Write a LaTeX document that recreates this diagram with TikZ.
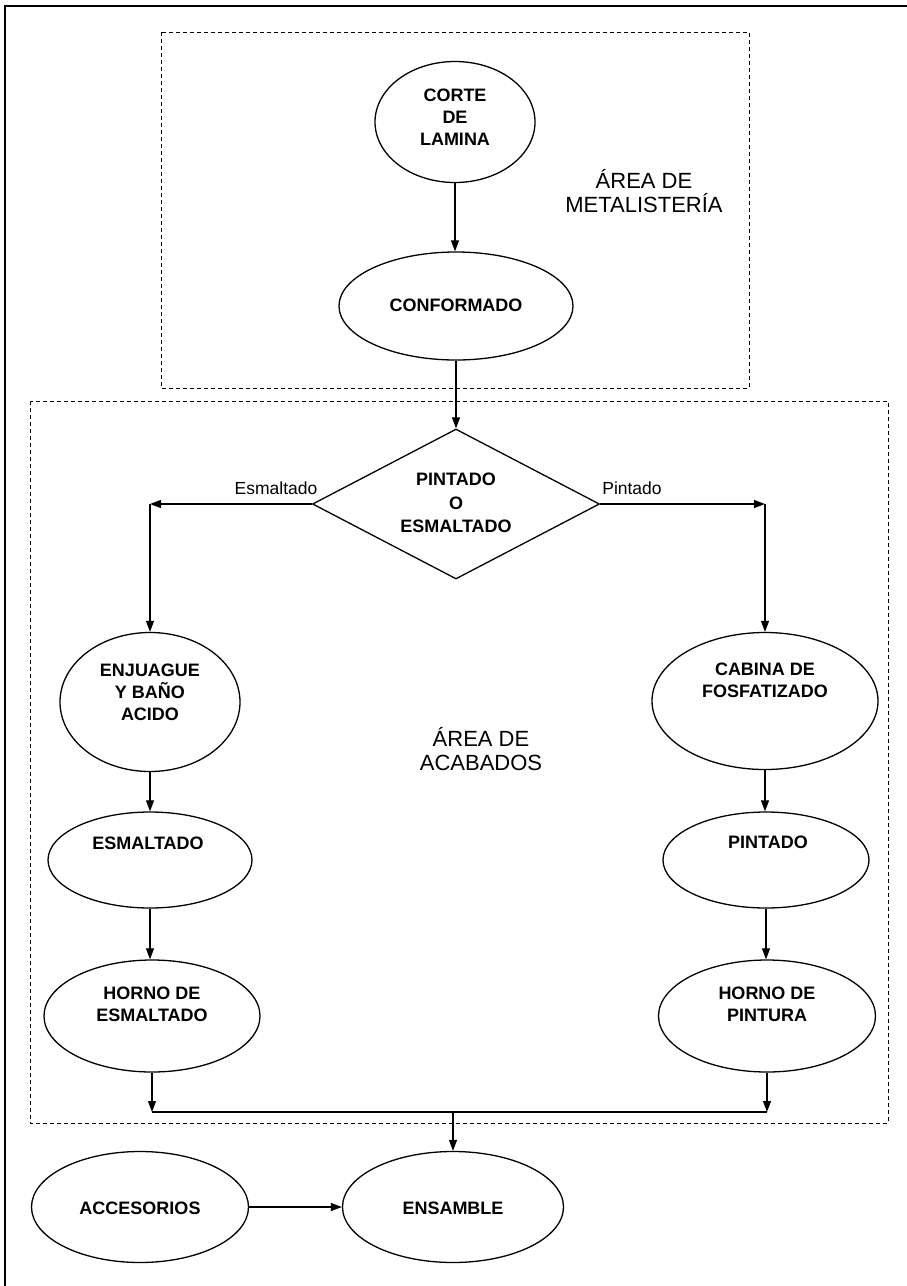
\documentclass[tikz,border=0pt]{standalone}
\usepackage{fontspec}
\setmainfont{Liberation Sans}
\usetikzlibrary{shapes.geometric,arrows.meta}
\begin{document}
\begin{tikzpicture}[x=1pt,y=-1pt,
  proc/.style={draw, ellipse, line width=1.3pt, inner sep=0pt},
  decis/.style={draw, diamond, line width=1.3pt, inner sep=0pt},
  txt/.style={font=\fontsize{18}{22}\selectfont\bfseries, align=center, inner sep=0pt},
  area/.style={font=\fontsize{22}{24}\selectfont, align=center, inner sep=0pt},
  blbl/.style={font=\fontsize{17.5}{20}\selectfont, inner sep=0pt},
  region/.style={draw, dash pattern=on 4pt off 3pt, line width=1pt},
  arr/.style={-{Triangle[length=11pt,width=8pt]}, line width=1.1pt},
  ln/.style={line width=1.1pt}]
\useasboundingbox (0,0) rectangle (907,1286);
\fill[white] (0,0) rectangle (907,1286);
% outer frame
\draw[line width=1.5pt] (5,1286) -- (5,6) -- (907,6);
% regions
\draw[region] (161,32) rectangle (749,388);
\draw[region] (30,401) rectangle (888,1123);
% area labels
\node[area] (ametal) at (644,191) {ÁREA DE\\METALISTERÍA};
\node[area] (aacab) at (481,749) {ÁREA DE\\ACABADOS};
% nodes
\node[proc, minimum width=160, minimum height=121] (corte) at (455,122) {};
\node[txt] (corte-t) at (455,117) {CORTE\\DE\\LAMINA};
\node[proc, minimum width=234, minimum height=108] (conf) at (456,306) {};
\node[txt] (conf-t) at (456,305) {CONFORMADO};
\node[decis, minimum width=287, minimum height=150] (dia) at (456,504) {};
\node[txt, font=\fontsize{18}{23.5}\selectfont\bfseries] (dia-t) at (456,503) {PINTADO\\O\\ESMALTADO};
\node[proc, minimum width=180, minimum height=139] (enj) at (150,702) {};
\node[txt] (enj-t) at (150,692) {ENJUAGUE\\Y BAÑO\\ACIDO};
\node[proc, minimum width=226, minimum height=137] (cab) at (765,701) {};
\node[txt] (cab-t) at (765,680) {CABINA DE\\FOSFATIZADO};
\node[proc, minimum width=204, minimum height=96] (esm) at (150,860) {};
\node[txt] (esm-t) at (148,843) {ESMALTADO};
\node[proc, minimum width=206, minimum height=96] (pin) at (766,860) {};
\node[txt] (pin-t) at (768,842) {PINTADO};
\node[proc, minimum width=216, minimum height=112] (hesm) at (152,1016) {};
\node[txt] (hesm-t) at (152,1004) {HORNO DE\\ESMALTADO};
\node[proc, minimum width=217, minimum height=112] (hpin) at (767,1016) {};
\node[txt] (hpin-t) at (767,1004) {HORNO DE\\PINTURA};
\node[proc, minimum width=221, minimum height=111] (ens) at (453,1207) {};
\node[txt] (ens-t) at (453,1208) {ENSAMBLE};
\node[proc, minimum width=217, minimum height=111] (acc) at (140,1207) {};
\node[txt] (acc-t) at (140,1208) {ACCESORIOS};
% branch labels
\node[blbl] (lesm) at (276,488) {Esmaltado};
\node[blbl] (lpin) at (632,488) {Pintado};
% coordinates
\coordinate (L) at (150,504);
\coordinate (R) at (765,504);
\coordinate (ML) at (152,1112);
\coordinate (MR) at (767,1112);
\coordinate (MC) at (453,1112);
% connectors
\draw[arr] (corte.south) -- (corte.south |- conf.north);
\draw[arr] (conf.south) -- (dia.north);
\draw[arr] (dia.west) -- (L);
\draw[arr] (dia.east) -- (R);
\draw[arr] (L) -- (enj.north);
\draw[arr] (R) -- (cab.north);
\draw[arr] (enj.south) -- (esm.north);
\draw[arr] (esm.south) -- (esm.south |- hesm.north);
\draw[arr] (cab.south) -- (cab.south |- pin.north);
\draw[arr] (pin.south) -- (pin.south |- hpin.north);
\draw[arr] (hesm.south) -- (ML);
\draw[arr] (hpin.south) -- (MR);
\draw[ln] (ML) -- (MR);
\draw[arr] (MC) -- (ens.north);
\draw[arr] (acc.east) -- (ens.west);
\end{tikzpicture}
\end{document}
